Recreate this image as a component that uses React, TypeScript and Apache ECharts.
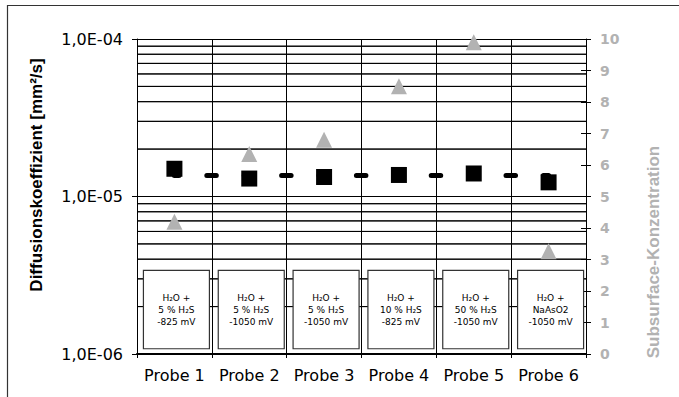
import React, { useEffect, useRef } from "react";
import * as echarts from "echarts";

const categories = ["Probe 1", "Probe 2", "Probe 3", "Probe 4", "Probe 5", "Probe 6"];
const diffusion = [1.5e-5, 1.3e-5, 1.33e-5, 1.37e-5, 1.4e-5, 1.23e-5];
const meanDiffusion = [1.36e-5, 1.36e-5, 1.36e-5, 1.36e-5, 1.36e-5, 1.36e-5];
const concentration = [4.2, 6.35, 6.8, 8.5, 9.9, 3.26];
const boxTexts = [
  "H₂O +\n5 % H₂S\n-825 mV",
  "H₂O +\n5 % H₂S\n-1050 mV",
  "H₂O +\n5 % H₂S\n-1050 mV",
  "H₂O +\n10 % H₂S\n-825 mV",
  "H₂O +\n50 % H₂S\n-1050 mV",
  "H₂O +\nNaAsO2\n-1050 mV",
];
const boxTop = 3.4e-6;
const boxBottom = 1.08e-6;
const minorGridValues = [
  2e-6, 3e-6, 4e-6, 5e-6, 6e-6, 7e-6, 8e-6, 9e-6,
  2e-5, 3e-5, 4e-5, 5e-5, 6e-5, 7e-5, 8e-5, 9e-5,
];
const leftTickLabels: Record<string, string> = {
  "-6": "1,0E-06",
  "-5": "1,0E-05",
  "-4": "1,0E-04",
};

const GRAY = "#b2b2b2";
const GRID = { left: 137, right: 93, top: 39, bottom: 43 };

export default function App() {
  const ref = useRef<HTMLDivElement>(null);
  useEffect(() => {
    if (!ref.current) return;
    const chart = echarts.init(ref.current, null, { renderer: "svg" });
    const option: any = {
      animation: false,
      grid: [GRID, { ...GRID, show: false }],
      xAxis: [
        {
          type: "category",
          gridIndex: 0,
          data: categories,
          boundaryGap: true,
          axisLine: { show: true, lineStyle: { color: "#000", width: 2 } },
          axisTick: { show: true, interval: 0, length: 4, lineStyle: { color: "#000" } },
          axisLabel: {
            interval: 0,
            color: "#000",
            fontSize: 16,
            fontFamily: "DejaVu Sans",
            margin: 13,
          },
          splitLine: { show: true, interval: 0, lineStyle: { color: "#000", width: 1 } },
        },
        {
          type: "value",
          gridIndex: 1,
          min: 0,
          max: 1,
          show: false,
        },
      ],
      yAxis: [
        {
          type: "log",
          gridIndex: 0,
          logBase: 10,
          min: 1e-6,
          max: 1e-4,
          position: "left",
          axisLine: { show: true, lineStyle: { color: "#000", width: 1 } },
          axisTick: { show: true, length: 5, lineStyle: { color: "#000" } },
          axisLabel: {
            color: "#000",
            fontSize: 16,
            fontFamily: "DejaVu Sans",
            margin: 14,
            formatter: (v: number) => leftTickLabels[String(Math.round(Math.log10(v)))] || "",
          },
          splitLine: { show: true, lineStyle: { color: "#000", width: 1 } },
        },
        {
          type: "value",
          gridIndex: 0,
          min: 0,
          max: 10,
          interval: 1,
          position: "right",
          axisLine: { show: true, lineStyle: { color: "#000", width: 1 } },
          axisTick: { show: true, length: 5, lineStyle: { color: "#000" } },
          axisLabel: {
            color: GRAY,
            fontSize: 14,
            fontWeight: "bold",
            fontFamily: "DejaVu Sans",
            margin: 14,
          },
          splitLine: { show: false },
        },
        {
          type: "value",
          gridIndex: 0,
          min: 0,
          max: 10,
          interval: 1,
          position: "right",
          offset: 0,
          axisLine: { show: false },
          axisTick: { show: true, inside: true, length: 5, lineStyle: { color: "#000" } },
          axisLabel: { show: false },
          splitLine: { show: false },
        },
        {
          type: "log",
          gridIndex: 1,
          logBase: 10,
          min: 1e-6,
          max: 1e-4,
          show: false,
        },
      ],
      graphic: [
        {
          type: "rect",
          z: -10,
          shape: { x: 7.5, y: 5.5, width: 700, height: 420 },
          style: { fill: "none", stroke: "#333", lineWidth: 1.2 },
        },
        {
          type: "text",
          x: 36,
          y: 175,
          rotation: Math.PI / 2,
          style: {
            text: "Diffusionskoeffizient [mm²/s]",
            fill: "#000",
            font: 'bold 17px "Liberation Sans", Arial, sans-serif',
            align: "center",
            verticalAlign: "middle",
          },
        },
        {
          type: "text",
          x: 653,
          y: 252,
          rotation: Math.PI / 2,
          style: {
            text: "Subsurface-Konzentration",
            fill: GRAY,
            font: 'bold 17px "Liberation Sans", Arial, sans-serif',
            align: "center",
            verticalAlign: "middle",
          },
        },
      ],
      series: [
        {
          name: "minorGrid",
          type: "custom",
          xAxisIndex: 1,
          yAxisIndex: 3,
          z: 1,
          silent: true,
          data: minorGridValues.map((v) => [0, v]),
          encode: { x: 0, y: 1 },
          renderItem: (params: any, api: any) => {
            const a = api.coord([0, api.value(1)]);
            const b = api.coord([1, api.value(1)]);
            return {
              type: "line",
              shape: { x1: a[0], y1: a[1], x2: b[0], y2: b[1] },
              style: { stroke: "#000", lineWidth: 1 },
            };
          },
        },
        {
          name: "boxes",
          type: "custom",
          xAxisIndex: 0,
          yAxisIndex: 0,
          z: 10,
          data: categories.map((_, i) => [i, boxTop, boxBottom]),
          encode: { x: 0, y: [1, 2] },
          renderItem: (params: any, api: any) => {
            const i = api.value(0);
            const top = api.coord([i, api.value(1)]);
            const bot = api.coord([i, api.value(2)]);
            const w = 66;
            const cx = top[0] + 2;
            const cs = params.coordSys;
            const children: any[] = [];
            if (params.dataIndex === 0) {
              minorGridValues.forEach((v) => {
                const p = api.coord([0, v]);
                children.push({
                  type: "line",
                  silent: true,
                  shape: { x1: cs.x, y1: p[1], x2: cs.x + cs.width, y2: p[1] },
                  style: { stroke: "#000", lineWidth: 1 },
                });
              });
            }
            children.push(
              {
                type: "rect",
                shape: { x: cx - w / 2, y: top[1], width: w, height: bot[1] - top[1] },
                style: { fill: "#fff", stroke: "#333", lineWidth: 1.2 },
              },
              {
                type: "text",
                x: cx,
                y: (top[1] + bot[1]) / 2,
                style: {
                  text: boxTexts[i],
                  fill: "#000",
                  font: '9px "DejaVu Sans", sans-serif',
                  align: "center",
                  verticalAlign: "middle",
                  lineHeight: 12,
                },
              }
            );
            return { type: "group", children };
          },
        },
        {
          name: "Mittelwert",
          type: "line",
          xAxisIndex: 0,
          yAxisIndex: 0,
          data: meanDiffusion,
          z: 11,
          symbol: "none",
          lineStyle: {
            color: "#000",
            width: 5,
            type: [9.5, 27.9],
            dashOffset: 4.75,
            cap: "round",
          },
        },
        {
          name: "Diffusionskoeffizient",
          type: "scatter",
          xAxisIndex: 0,
          yAxisIndex: 0,
          data: diffusion,
          z: 12,
          symbol: "rect",
          symbolSize: 16,
          itemStyle: { color: "#000", opacity: 1 },
        },
        {
          name: "Subsurface-Konzentration",
          type: "scatter",
          xAxisIndex: 0,
          yAxisIndex: 1,
          data: concentration,
          z: 12,
          symbol: "triangle",
          symbolSize: 16,
          itemStyle: { color: GRAY, opacity: 1 },
        },
      ],
    };
    chart.setOption(option);
    return () => chart.dispose();
  }, []);
  return (
    <div
      ref={ref}
      style={{ position: "absolute", left: 0, top: 0, width: 679, height: 397, background: "#fff" }}
    />
  );
}
